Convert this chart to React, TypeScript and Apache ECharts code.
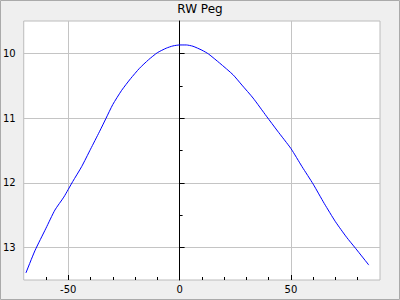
import React, { useEffect, useRef } from "react";
import * as echarts from "echarts";

const phase: number[] = [-69, -65, -60, -56, -52, -48, -44, -40, -36, -33, -30, -26, -22, -18, -14, -10, -6, -3, 0, 3, 6, 10, 13, 18, 24, 28, 33, 39, 44, 50, 55, 60, 65, 70, 75, 79, 85];
const magnitude: number[] = [13.39, 13.05, 12.7, 12.42, 12.22, 11.98, 11.75, 11.48, 11.21, 11.0, 10.79, 10.57, 10.39, 10.23, 10.1, 9.99, 9.92, 9.885, 9.87, 9.87, 9.89, 9.95, 10.01, 10.15, 10.33, 10.49, 10.69, 10.97, 11.2, 11.47, 11.75, 12.02, 12.32, 12.6, 12.84, 13.01, 13.27];
const xTicks: number[] = [-50, 0, 50];
const yTicks: number[] = [10, 11, 12, 13];
const titleText = "RW Peg";

export default function App() {
  const ref = useRef<HTMLDivElement>(null);
  useEffect(() => {
    if (!ref.current) return;
    const chart = echarts.init(ref.current, null, { renderer: "svg" });
    const font = "DejaVu Sans";
    chart.setOption({
      animation: false,
      backgroundColor: "#efefef",
      title: {
        text: titleText,
        left: "center",
        top: 3,
        padding: 0,
        textStyle: { fontSize: 12, fontWeight: "normal", color: "#000", fontFamily: font },
      },
      graphic: [
        {
          type: "rect",
          shape: { x: 0.5, y: 0.5, width: 399, height: 299 },
          style: { fill: "none", stroke: "#aaaaaa", lineWidth: 1 },
          silent: true,
        },
      ],
      grid: {
        left: 20,
        top: 21,
        right: 20,
        bottom: 20,
        show: true,
        backgroundColor: "#ffffff",
        borderColor: "#bcbcbc",
        borderWidth: 1,
      },
      xAxis: {
        type: "value",
        min: -70,
        max: 90,
        minInterval: 50,
        maxInterval: 50,
        axisLine: { show: false, onZero: false },
        axisTick: { show: true, inside: true, length: 5, customValues: xTicks, lineStyle: { color: "#000" } },
        minorTick: { show: true, splitNumber: 5, length: 3, lineStyle: { color: "#000" } },
        axisLabel: { customValues: xTicks, margin: 4, fontSize: 10, color: "#000", fontFamily: font },
        splitLine: { show: true, lineStyle: { color: "#c4c4c4", width: 1 } },
      },
      yAxis: {
        type: "value",
        inverse: true,
        min: 9.5,
        max: 13.5,
        minInterval: 1,
        maxInterval: 1,
        axisLine: { show: true, onZero: true, lineStyle: { color: "#000", width: 1 } },
        axisTick: { show: true, inside: true, length: 5, customValues: yTicks, lineStyle: { color: "#000" } },
        minorTick: { show: true, splitNumber: 2, length: 3, lineStyle: { color: "#000" } },
        axisLabel: { customValues: yTicks, margin: 8, fontSize: 10, color: "#000", fontFamily: font },
        splitLine: { show: true, lineStyle: { color: "#c4c4c4", width: 1 } },
      },
      series: [
        {
          type: "line",
          data: phase.map((p, i) => [p, magnitude[i]]),
          showSymbol: false,
          smooth: 0.2,
          lineStyle: { color: "#0000ff", width: 1 },
          z: 3,
        },
      ],
    });
    return () => chart.dispose();
  }, []);
  return <div ref={ref} style={{ position: "absolute", left: 0, top: 0, width: 400, height: 300 }} />;
}
